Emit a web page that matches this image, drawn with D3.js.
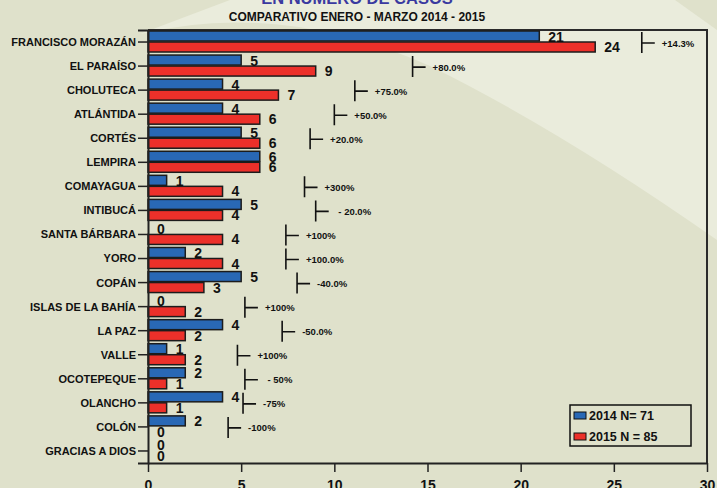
<!DOCTYPE html>
<meta charset="utf-8">
<style>
body { margin: 0; font-family: 'Liberation Sans', Arial, sans-serif; }
svg { display: block; }
.cat text, .xax text { font-weight: bold; fill: #111; }
.val { font-weight: bold; font-size: 14px; fill: #111; }
.pct { font-weight: bold; font-size: 9.5px; fill: #111; }
</style>
<body>
<script src="https://d3js.org/d3.v7.min.js"></script>
<script>
var width = 717,
    height = 488;

var categories = ["FRANCISCO MORAZÁN", "EL PARAÍSO", "CHOLUTECA", "ATLÁNTIDA", "CORTÉS", "LEMPIRA",
  "COMAYAGUA", "INTIBUCÁ", "SANTA BÁRBARA", "YORO", "COPÁN", "ISLAS DE LA BAHÍA", "LA PAZ",
  "VALLE", "OCOTEPEQUE", "OLANCHO", "COLÓN", "GRACIAS A DIOS"];
var cases2014 = [21, 5, 4, 4, 5, 6, 1, 5, 0, 2, 5, 0, 4, 1, 2, 4, 2, 0];
var cases2015 = [24, 9, 7, 6, 6, 6, 4, 4, 4, 4, 3, 2, 2, 2, 1, 1, 0, 0];
var changeLabels = ["+14.3%", "+80.0%", "+75.0%", "+50.0%", "+20.0%", "", "+300%", " - 20.0%", "+100%",
  "+100.0%", "-40.0%", "+100%", "-50.0%", "+100%", " - 50%", "-75%", "-100%", ""];
// where each change bracket sits, in axis units
var changeAt = [26.5, 14.2, 11.1, 10.0, 8.7, null, 8.4, 9.0, 7.4, 7.4, 8.0, 5.2, 7.2, 4.8, 5.2, 5.1, 4.3, null];
var xTicks = [0, 5, 10, 15, 20, 25, 30];
var seriesNames = ["2014 N= 71", "2015 N = 85"];
var seriesColors = ["#2968b5", "#ec302a"];

var svg = d3.select("body").append("svg")
    .attr("width", width)
    .attr("height", height);

// background swoosh
svg.append("rect").attr("width", width).attr("height", height).attr("fill", "#dfe1cb");
svg.append("path")
    .attr("d", "M230,0 L717,0 L717,240 Q560,130 430,66 Q280,0 140,34 Q190,15 230,0 Z")
    .attr("fill", "#eaecdc");
svg.append("path").attr("d", "M675,0 L717,0 L717,30 Z").attr("fill", "#dfe1cb");

var x = d3.scaleLinear().domain([0, 30]).range([148, 707]);
var y = d3.scaleBand().domain(categories).range([30, 463]);

var rows = categories.map(function(c, i) {
  return {cat: c, a: cases2014[i], b: cases2015[i], label: changeLabels[i], at: changeAt[i]};
});

// frame
svg.append("path")
    .attr("d", "M148,30 H707 V463")
    .attr("fill", "none")
    .attr("stroke", "#2a2a2a")
    .attr("stroke-width", 2);

var g = svg.append("g");

g.selectAll(".b14").data(rows).join("rect")
    .attr("x", x(0))
    .attr("y", d => y(d.cat) + 1)
    .attr("width", d => x(d.a) - x(0))
    .attr("height", d => d.a > 0 ? 10 : 0)
    .attr("fill", seriesColors[0])
    .attr("stroke", "#1c1c1c")
    .attr("stroke-width", 1.5);

g.selectAll(".b15").data(rows).join("rect")
    .attr("x", x(0))
    .attr("y", d => y(d.cat) + 12)
    .attr("width", d => x(d.b) - x(0))
    .attr("height", d => d.b > 0 ? 10 : 0)
    .attr("fill", seriesColors[1])
    .attr("stroke", "#1c1c1c")
    .attr("stroke-width", 1.5);

g.selectAll(".v14").data(rows).join("text")
    .attr("class", "val")
    .attr("x", d => x(d.a) + 9)
    .attr("y", d => y(d.cat) + 11.5)
    .text(d => d.a);

g.selectAll(".v15").data(rows).join("text")
    .attr("class", "val")
    .attr("x", d => x(d.b) + 9)
    .attr("y", d => y(d.cat) + 22)
    .text(d => d.b);

// change brackets
var ann = g.selectAll(".ann").data(rows.filter(d => d.at != null)).join("g")
    .attr("transform", d => "translate(" + x(d.at) + "," + (y(d.cat) + y.bandwidth() / 2) + ")");
ann.append("path")
    .attr("d", "M0,-10 V11 M0,1 H13")
    .attr("fill", "none")
    .attr("stroke", "#111")
    .attr("stroke-width", 1.6);
ann.append("text")
    .attr("class", "pct")
    .attr("x", 20)
    .attr("y", 4.5)
    .attr("xml:space", "preserve")
    .text(d => d.label);

// axes
var yAxis = svg.append("g")
    .attr("class", "cat")
    .attr("transform", "translate(148,0)")
    .call(d3.axisLeft(y).tickSize(10).tickPadding(2));
yAxis.selectAll("text").attr("font-size", 11).attr("font-family", "'Liberation Sans', Arial, sans-serif").attr("dy", "0.36em");
yAxis.selectAll("line").attr("stroke", "#222").attr("stroke-width", 1.5);
yAxis.select(".domain").attr("stroke", "#222").attr("stroke-width", 2);

var xAxis = svg.append("g")
    .attr("class", "xax")
    .attr("transform", "translate(0,463)")
    .call(d3.axisBottom(x).tickValues(xTicks).tickSize(9).tickSizeOuter(0).tickPadding(8));
xAxis.selectAll("text").attr("font-size", 14).attr("font-family", "'Liberation Sans', Arial, sans-serif");
xAxis.selectAll("line").attr("stroke", "#222").attr("stroke-width", 1.5);
xAxis.select(".domain").attr("stroke", "#222").attr("stroke-width", 2);

// titles
svg.append("text")
    .attr("x", 357).attr("y", 3.5)
    .attr("text-anchor", "middle")
    .attr("font-weight", "bold").attr("font-size", 16.5)
    .attr("fill", "#3a3aa0")
    .text("EN NÚMERO DE CASOS");
svg.append("text")
    .attr("x", 357).attr("y", 20.5)
    .attr("text-anchor", "middle")
    .attr("font-weight", "bold").attr("font-size", 12)
    .attr("fill", "#111")
    .text("COMPARATIVO ENERO - MARZO 2014 - 2015");

// legend
var lg = svg.append("g").attr("transform", "translate(570,405)");
lg.append("rect")
    .attr("width", 121).attr("height", 41)
    .attr("fill", "none").attr("stroke", "#111").attr("stroke-width", 1.5);
var li = lg.selectAll(".li").data(seriesNames).join("g")
    .attr("transform", (d, i) => "translate(4," + (7 + i * 21) + ")");
li.append("rect")
    .attr("width", 12).attr("height", 7)
    .attr("fill", (d, i) => seriesColors[i])
    .attr("stroke", "#111").attr("stroke-width", 1);
li.append("text")
    .attr("x", 15).attr("y", 7.5)
    .attr("font-weight", "bold").attr("font-size", 12.5)
    .attr("fill", "#111")
    .text(d => d);
</script>
</body>
